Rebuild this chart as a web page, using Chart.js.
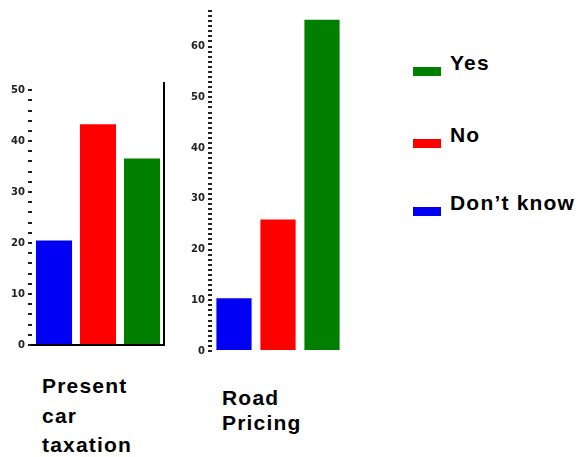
<!DOCTYPE html>
<html>
<head>
<meta charset="utf-8">
<script src="https://cdn.jsdelivr.net/npm/chart.js@4/dist/chart.umd.min.js"></script>
<style>
	body { margin: 0; background: #fff; width: 580px; height: 457px; overflow: hidden; position: relative; }
	.box { position: absolute; }
	.txt { position: absolute; font-family: "Liberation Sans"; font-weight: bold; font-size: 21px; letter-spacing: 1.2px; color: #000; white-space: nowrap; }
	.key { position: absolute; width: 28px; height: 9px; }
</style>
</head>
<body>
<div class="box" style="left:0px; top:0px; width:180px; height:360px;"><canvas id="taxChart"></canvas></div>
<div class="box" style="left:180px; top:0px; width:180px; height:370px;"><canvas id="roadChart"></canvas></div>
<div id="panelText"></div>
<div id="legendArea"></div>

<script>
/***************************** 데이터 *****************************/
let answers = ["Don’t know", "No", "Yes"]
let barColors = ["#0000f4", "#ff0000", "#007f00"]

let taxValues = [20.5, 43.3, 36.6]
let roadValues = [10.4, 25.9, 65.3]

let taxTitle = ["Present", "car", "taxation"]
let roadTitle = ["Road", "Pricing"]

/***************************** getElementById function *****************************/
function ById(id) {
	return document.getElementById(id);
}

/***************************** 막대 차트 function *****************************/
function panelChart(id, values, opt) {

	var chartArea = ById(id).getContext('2d');

	var scales = {
		x: {
			grid: { display: false },
			ticks: { display: false },
			border: { display: opt.baseline, color: '#000', width: 2 },
			afterFit: function(scale) { scale.height = 0 }
		},
		y: {
			min: 0,
			max: opt.max,
			grid: { drawOnChartArea: false, color: '#222', lineWidth: 2, tickLength: 4 },
			border: { display: false },
			ticks: {
				stepSize: opt.step,
				autoSkip: false,
				includeBounds: false,
				padding: 3,
				color: '#222',
				font: { family: 'DejaVu Sans', size: 10, weight: 'bold' },
				callback: function(v) { return v % 10 === 0 ? v : '' }
			},
			afterFit: function(scale) { scale.width = 32 }
		}
	}

	// 오른쪽 세로선 (왼쪽 차트만)
	if (opt.rightLine) {
		scales.y2 = {
			position: 'right',
			min: 0,
			max: opt.max,
			grid: { display: false },
			ticks: { display: false },
			border: { display: true, color: '#000', width: 2 },
			afterFit: function(scale) { scale.width = 0 }
		}
	}

	return new Chart(chartArea, {
		type: 'bar',
		data: {
			labels: answers,
			datasets: [{
				data: values,
				backgroundColor: barColors,
				borderWidth: 0,
				categoryPercentage: 1,
				barPercentage: opt.barPct
			}]
		},
		options: {
			responsive: true,
			maintainAspectRatio: false,
			animation: false,
			layout: { padding: opt.padding },
			plugins: { legend: { display: false }, tooltip: { enabled: false } },
			scales: scales
		}
	})
}

/***************************** 글자 / 범례 *****************************/
function drawTexts() {
	let html = ''
	html += '<div class="txt" style="left:42px; top:371px; line-height:29.5px;">' + taxTitle.join('<br>') + '</div>'
	html += '<div class="txt" style="left:222px; top:385px; line-height:25px;">' + roadTitle.join('<br>') + '</div>'
	ById('panelText').innerHTML = html

	// 범례는 Yes, No, Don't know 순서
	let legendTop = [193, 125, 53]
	let leg = ''
	for (let i = 0; i < answers.length; i++) {
		leg += '<div class="key" style="left:413px; top:' + (legendTop[i] + 14) + 'px; background:' + barColors[i] + ';"></div>'
		leg += '<div class="txt" style="left:450px; top:' + legendTop[i] + 'px; line-height:20px;">' + answers[i] + '</div>'
	}
	ById('legendArea').innerHTML = leg
}

panelChart('taxChart', taxValues, {
	max: 51.4, step: 2, barPct: 0.82, baseline: true, rightLine: true,
	padding: { top: 83, right: 16, bottom: 15, left: 0 }
})

panelChart('roadChart', roadValues, {
	max: 67.4, step: 1, barPct: 0.8, baseline: false, rightLine: false,
	padding: { top: 2, right: 16, bottom: 19, left: 0 }
})

drawTexts()
</script>
</body>
</html>
